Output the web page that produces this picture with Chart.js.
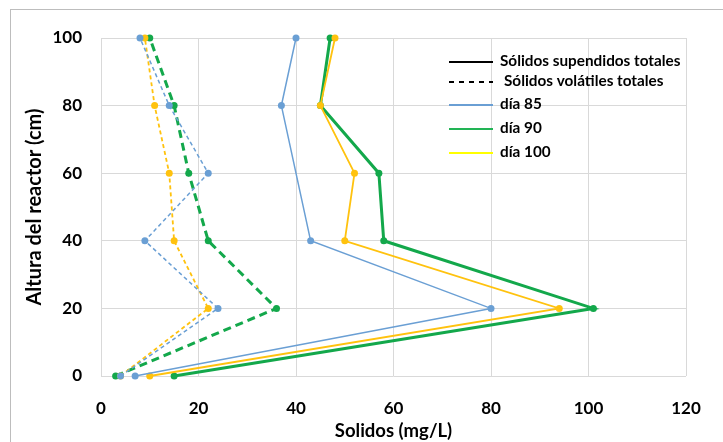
<!DOCTYPE html>
<html>
<head>
<meta charset="utf-8">
<script src="https://cdn.jsdelivr.net/npm/chart.js@4"></script>
<style>
    html, body { margin: 0; padding: 0; background: #fff; }
    #wrap { position: relative; width: 723px; height: 442px; overflow: hidden; }
    #marco { position: absolute; left: 10px; top: 9px; width: 760px; height: 480px;
             border-left: 1px solid #bdbdbd; border-top: 1px solid #bdbdbd; }
    #chart { position: absolute; left: 0; top: 0; }
</style>
</head>
<body>
<div id="wrap"><div id="marco"></div><canvas id="chart" width="723" height="442"></canvas></div>
<script>
const alturas = [0, 20, 40, 60, 80, 100];

// solidos suspendidos totales (linea continua)
const sst85 = [7, 80, 43, null, 37, 40];
const sst90 = [15, 101, 58, 57, 45, 47];
const sst100 = [10, 94, 50, 52, 45, 48];

// solidos volatiles totales (linea discontinua)
const svt85 = [4, 24, 9, 22, 14, 8];
const svt90 = [3, 36, 22, 18, 15, 10];
const svt100 = [4, 22, 15, 14, 11, 9];

const xTicks = [0, 20, 40, 60, 80, 100, 120];
const yTicks = [0, 20, 40, 60, 80, 100];

const AZUL = "#6a9fd4";
const VERDE = "#13a84b";
const AMARILLO = "#ffc20e";
const FUENTE = "Lato, 'Open Sans', sans-serif";

function puntos(vals) {
    const out = [];
    vals.forEach((v, i) => {
        if (v !== null) out.push({ x: v, y: alturas[i] });
    });
    return out;
}

function serie(label, vals, color, width, dash) {
    return {
        label: label,
        data: puntos(vals),
        showLine: true,
        clip: false,
        borderColor: color,
        backgroundColor: color,
        borderWidth: width,
        borderDash: dash,
        pointRadius: 3.5,
        pointBorderWidth: 0,
        tension: 0
    };
}

const legendItems = [
    { text: "Sólidos supendidos totales", color: "#000", dash: [], y: 62, tx: 500 },
    { text: "Sólidos volátiles totales", color: "#000", dash: [5, 5], y: 82, tx: 504 },
    { text: "día 85", color: AZUL, dash: [], y: 105, tx: 500 },
    { text: "día 90", color: "#22b455", dash: [], y: 129, tx: 500 },
    { text: "día 100", color: "#ffff00", dash: [], y: 153, tx: 500 }
];

const leyenda = {
    id: "leyenda",
    afterDatasetsDraw(chart) {
        const ctx = chart.ctx;
        ctx.save();
        legendItems.forEach(it => {
            ctx.strokeStyle = it.color;
            ctx.lineWidth = 2;
            ctx.setLineDash(it.dash);
            ctx.beginPath();
            ctx.moveTo(449, it.y);
            ctx.lineTo(493, it.y);
            ctx.stroke();
            ctx.setLineDash([]);
            ctx.fillStyle = "#000";
            ctx.font = "bold 15.3px " + FUENTE;
            ctx.textBaseline = "middle";
            ctx.fillText(it.text, it.tx, it.y - 1);
        });
        ctx.restore();
    }
};

new Chart(document.getElementById("chart"), {
    type: "scatter",
    data: {
        datasets: [
            serie("SVT día 85", svt85, AZUL, 1.5, [4, 3]),
            serie("SVT día 100", svt100, AMARILLO, 1.8, [4, 3]),
            serie("SVT día 90", svt90, VERDE, 3, [8, 5]),
            serie("SST día 85", sst85, AZUL, 1.5, []),
            serie("SST día 100", sst100, AMARILLO, 1.8, []),
            serie("SST día 90", sst90, VERDE, 3, [])
        ]
    },
    options: {
        responsive: false,
        animation: false,
        spanGaps: true,
        layout: { padding: { top: 38, right: 37, left: 0, bottom: 0 } },
        plugins: {
            legend: { display: false },
            tooltip: { enabled: false }
        },
        scales: {
            x: {
                min: 0,
                max: 120,
                afterBuildTicks: axis => { axis.ticks = xTicks.map(v => ({ value: v })); },
                afterFit: axis => { axis.height = 66; },
                grid: { color: "#d9d9d9", drawTicks: false },
                border: { display: false },
                ticks: {
                    padding: 22,
                    color: "#000",
                    font: { family: FUENTE, size: 17, weight: "bold" }
                },
                title: {
                    display: true,
                    text: "Solidos (mg/L)",
                    color: "#000",
                    padding: { top: 0, bottom: 0 },
                    font: { family: FUENTE, size: 18.5, weight: "bold" }
                }
            },
            y: {
                min: 0,
                max: 100,
                afterBuildTicks: axis => { axis.ticks = yTicks.map(v => ({ value: v })); },
                afterFit: axis => { axis.width = 101; },
                grid: { color: "#d9d9d9", drawTicks: false },
                border: { display: false },
                ticks: {
                    padding: 19,
                    color: "#000",
                    font: { family: FUENTE, size: 17, weight: "bold" }
                },
                title: {
                    display: true,
                    text: "Altura del reactor (cm)",
                    color: "#000",
                    padding: { top: 23, bottom: 0 },
                    font: { family: FUENTE, size: 20, weight: "bold" }
                }
            }
        }
    },
    plugins: [leyenda]
});
</script>
</body>
</html>
